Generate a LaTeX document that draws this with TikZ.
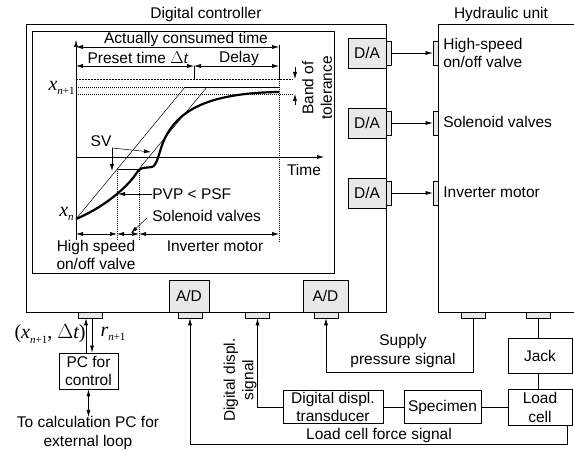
\documentclass[tikz,border=0pt]{standalone}
\usepackage{fontspec}
\setmainfont{Liberation Sans}
\newfontfamily\tms{Liberation Serif}
\usetikzlibrary{arrows.meta}
% italic serif variable with a small subscript
\newcommand{\mvar}[2]{{\fontsize{20}{20}\selectfont\tms\itshape #1}\raisebox{-0.5ex}{\fontsize{11}{11}\selectfont\tms #2}}
\begin{document}
\begin{tikzpicture}[x=1pt,y=-1pt,
  every node/.style={font=\fontsize{15.5}{18.5}\selectfont, inner sep=0pt},
  box/.style={draw, line width=0.7pt},
  conv/.style={draw, line width=0.7pt, fill=gray!18, minimum height=30pt},
  tabv/.style={draw, line width=0.6pt, fill=gray!18, minimum width=5pt, minimum height=24pt},
  tabh/.style={draw, line width=0.6pt, fill=gray!18, minimum width=24pt, minimum height=6pt},
  arr/.style={-{Latex[length=7pt,width=4pt]}},
  darr/.style={{Latex[length=7pt,width=4pt]}-{Latex[length=7pt,width=4pt]}},
  thin/.style={line width=0.5pt},
  dotl/.style={line width=0.6pt, dash pattern=on 1pt off 1pt},
  dashl/.style={line width=0.6pt, dash pattern=on 2pt off 1pt},
  line width=0.7pt]
\useasboundingbox (0,0) rectangle (574,449);

% ---------- frames ----------
\node[box, minimum width=360pt, minimum height=288pt] (dc) at (206,168) {};
\node at (206,14) (dctitle) {Digital controller};
\draw[box] (600,24) -- (438,24) -- (438,312) -- (600,312);
\coordinate (hu) at (438,24);
\node at (501,14) (hutitle) {Hydraulic unit};

% ---------- graph ----------
\draw[line width=0.7pt] (32,31) rectangle (334,273);
% axes
\draw[arr, thin] (76,240) -- (76,40);
\draw[arr, thin] (76,157) -- (324,157);
\node (time) at (304,170) {Time};
% time dimensions on top
\draw[darr, thin] (76,47) -- (279,47);
\draw[darr, thin] (76,66) -- (194,66);
\draw[darr, thin] (194,66) -- (279,66);
\draw[thin] (194,66) -- (194,79);
\draw[thin] (279,45) -- (279,79);
\draw[dotl] (279,79) -- (279,242);
\node (act) at (186,39) {Actually consumed time};
\node (pre) at (138,58) {Preset time {\fontsize{17}{17}\selectfont\tms$\Delta$\itshape t}};
\node (del) at (239,58) {Delay};
% tolerance band
\draw[dashl] (76,79) -- (293,79);
\draw[dotl] (76,87) -- (185,87);
\draw[thin] (185,87) -- (279,87);
\draw[dotl] (76,94) -- (293,94);
\draw[arr, thin] (295,67) -- (295,79);
\draw[arr, thin] (295,105) -- (295,94);
\node[rotate=90, align=center] (band) at (317,88) {Band of\\tolerance};
\node[anchor=east] (xn1) at (75,88) {\mvar{x}{\itshape n\upshape+1}};
\node[anchor=east] (xn) at (74,214) {\mvar{x}{\itshape n}};
% set-value envelope
\draw[thin] (76,219) -- (185,87);
\draw[thin] (139,169) -- (207,87);
\draw[thin] (117,169) -- (139,169);
% response
\draw[line width=2.2pt] (76,219) .. controls (100,209) and (126,190) .. (138,171)
  .. controls (141,167) and (146,168) .. (152,167)
  .. controls (158,165) and (159,150) .. (165,138)
  .. controls (178,112) and (205,93) .. (279,92);
% phase limits
\draw[dotl] (117,169) -- (117,240);
\draw[dotl] (139,169) -- (139,240);
\draw[darr, thin] (76,234) -- (117,234);
\draw[darr, thin] (117,234) -- (139,234);
\draw[darr, thin] (139,234) -- (279,234);
\node[align=center] (hs) at (96,255) {High speed\\on/off valve};
\node (im) at (215,246) {Inverter motor};
% annotations
\node (sv) at (101,141) {SV};
\draw[arr, thin] (112,148) -- (151,152);
\draw[arr, thin] (112,148) -- (112,171);
\node[anchor=west] (pvp) at (152,194) {PVP < PSF};
\draw[arr, thin] (pvp.west) -- (118,194);
\node[anchor=west] (sol) at (152,216) {Solenoid valves};
\draw[arr, thin] (147,218) -- (131,233);

% ---------- converters ----------
\node[conv, minimum width=38pt] (da1) at (367,53) {D/A};
\node[conv, minimum width=38pt] (da2) at (367,123) {D/A};
\node[conv, minimum width=38pt] (da3) at (367,193) {D/A};
\node[tabv] (dt1) at (388.5,53) {};
\node[tabv] (dt2) at (388.5,123) {};
\node[tabv] (dt3) at (388.5,193) {};
\node[tabv] (ht1) at (435.5,53) {};
\node[tabv] (ht2) at (435.5,123) {};
\node[tabv] (ht3) at (435.5,193) {};
\draw[arr] (dt1.east) -- (ht1.west);
\draw[arr] (dt2.east) -- (ht2.west);
\draw[arr] (dt3.east) -- (ht3.west);
\node[anchor=west, align=left] (l1) at (443,53) {High-speed\\on/off valve};
\node[anchor=west] (l2) at (443,122) {Solenoid valves};
\node[anchor=west] (l3) at (443,192) {Inverter motor};

\node[conv, minimum width=40pt, minimum height=32pt] (ad1) at (189,296) {A/D};
\node[conv, minimum width=45pt, minimum height=32pt] (ad2) at (325.5,296) {A/D};
\node[tabh] (at1) at (190,315) {};
\node[tabh] (at2) at (326,315) {};
\node[tabh] (pt) at (90,315) {};
\node[tabh] (st) at (257.5,315) {};
\node[tabh] (hb1) at (473.5,315) {};
\node[tabh] (hb2) at (538.5,315) {};

% ---------- PC for control ----------
\node[box, minimum width=59pt, minimum height=36pt, align=center] (pc) at (88.5,371) {PC for\\control};
\draw[arr] ([xshift=-2.5pt]pc.north) -- ([xshift=-2.5pt]pc.north |- pt.south);
\draw[arr] ([xshift=3.5pt]pc.north |- pt.south) -- ([xshift=3.5pt]pc.north);
\node (xin) at (50,334) {{\fontsize{20}{20}\selectfont\tms(}\mvar{x}{\itshape n\upshape+1}{\fontsize{20}{20}\selectfont\tms, $\Delta${\itshape t})}};
\node (rout) at (113,334) {\mvar{r}{\itshape n\upshape+1}};
\node[align=center] (calc) at (88,433) {To calculation PC for\\external loop};
\draw[darr] (pc.south) -- (pc.south |- 0,417);

% ---------- test rig ----------
\node[box, minimum width=64pt, minimum height=35pt] (jack) at (540,355.5) {Jack};
\node[box, minimum width=64pt, minimum height=36pt, align=center] (lc) at (540,407.5) {Load\\cell};
\node[box, minimum width=77pt, minimum height=33pt] (spec) at (442.5,407) {Specimen};
\node[box, minimum width=100pt, minimum height=33pt, align=center] (ddt) at (333,407) {Digital displ.\\transducer};
\draw (hb2.south) -- (hb2.south |- jack.north);
\draw (jack.south -| hb2.south) -- (lc.north -| hb2.south);
\draw (ddt.east) -- (spec.west);
\draw (spec.east) -- (spec.east -| lc.west);
\draw[arr] (ddt.west) -| (st.south);
\node[rotate=90, align=center] (dsl) at (240,380) {Digital displ.\\signal};
\coordinate (sp) at (473.5,372);
\draw[arr] (hb1.south) -- (sp) -| (at2.south);
\node[align=center] (spl) at (403,351) {Supply\\pressure signal};
\coordinate (lf) at (567,444);
\draw[arr] (lf |- lc.south) -- (lf) -| (at1.south);
\node (lfl) at (379,435) {Load cell force signal};
\end{tikzpicture}
\end{document}
